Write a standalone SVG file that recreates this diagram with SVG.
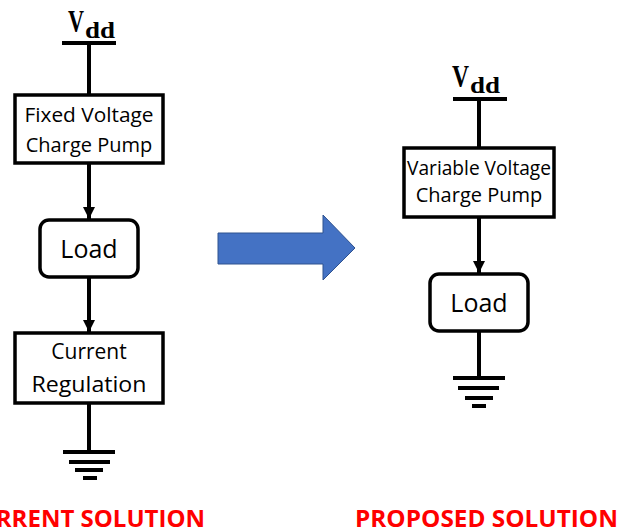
<svg xmlns="http://www.w3.org/2000/svg" width="634" height="531" viewBox="0 0 634 531">
<style>
.box{fill:#fff;stroke:#000;stroke-width:3.5}
.wire{stroke:#000;stroke-width:4;fill:none}
.gnd{stroke:#000;stroke-width:4}
.lbl{font-family:"Open Sans","Noto Sans",sans-serif;fill:#000;text-anchor:middle}
.vdd{font-family:"Liberation Serif",serif;font-weight:bold;fill:#000}
.title{font-family:"Open Sans","Noto Sans",sans-serif;font-weight:bold;fill:#FF0000;font-size:24px}
</style>
<defs>
<marker id="ah" markerUnits="userSpaceOnUse" markerWidth="14" markerHeight="12" refX="12" refY="6" orient="auto">
<path d="M0,0 L12,6 L0,12 Z" fill="#000"/>
</marker>
</defs>
<rect width="634" height="531" fill="#fff"/>
<g id="connectors">
<line class="wire" x1="89" y1="43" x2="89" y2="95"/>
<line class="wire" x1="89" y1="163" x2="89" y2="219" marker-end="url(#ah)"/>
<line class="wire" x1="89" y1="277" x2="89" y2="332" marker-end="url(#ah)"/>
<line class="wire" x1="89" y1="403" x2="89" y2="452"/>
<line class="wire" x1="479" y1="99" x2="479" y2="148"/>
<line class="wire" x1="479" y1="217" x2="479" y2="273" marker-end="url(#ah)"/>
<line class="wire" x1="479" y1="331" x2="479" y2="378"/>
</g>
<g id="vdd-left">
<line class="wire" x1="62" y1="43" x2="116" y2="43"/>
<text class="vdd" x="68" y="32" font-size="31" textLength="16" lengthAdjust="spacingAndGlyphs">V</text>
<text class="vdd" x="85" y="38" font-size="24" textLength="30" lengthAdjust="spacingAndGlyphs">dd</text>
</g>
<g id="fixed-pump">
<rect class="box" x="15" y="95" width="148" height="68"/>
<text class="lbl" x="89" y="122" font-size="20" textLength="129" lengthAdjust="spacingAndGlyphs">Fixed Voltage</text>
<text class="lbl" x="89" y="152" font-size="20">Charge Pump</text>
</g>
<g id="load-left">
<rect class="box" x="40" y="220" width="98" height="57" rx="9"/>
<text class="lbl" x="89" y="258" font-size="25">Load</text>
</g>
<g id="current-regulation">
<rect class="box" x="15" y="333" width="148" height="70"/>
<text class="lbl" x="89" y="359" font-size="21">Current</text>
<text class="lbl" x="89" y="392" font-size="21" textLength="115" lengthAdjust="spacingAndGlyphs">Regulation</text>
</g>
<g id="ground-left">
<line class="gnd" x1="63" y1="452" x2="115" y2="452"/>
<line class="gnd" x1="69" y1="462" x2="110" y2="462"/>
<line class="gnd" x1="75" y1="470" x2="103" y2="470"/>
<line class="gnd" x1="83" y1="478" x2="97" y2="478"/>
</g>
<g id="title-left">
<text class="title" x="205" y="527" text-anchor="end">CURRENT SOLUTION</text>
</g>
<g id="big-arrow">
<path d="M218,233 H323 V215 L355,248 L323,280 V264 H218 Z" fill="#4472C4" stroke="#2F528F" stroke-width="1"/>
</g>
<g id="vdd-right">
<line class="wire" x1="453" y1="99" x2="507" y2="99"/>
<text class="vdd" x="452" y="87" font-size="31" textLength="17" lengthAdjust="spacingAndGlyphs">V</text>
<text class="vdd" x="470" y="93" font-size="24" textLength="30" lengthAdjust="spacingAndGlyphs">dd</text>
</g>
<g id="variable-pump">
<rect class="box" x="404" y="148" width="150" height="69"/>
<text class="lbl" x="479" y="175" font-size="20" textLength="144" lengthAdjust="spacingAndGlyphs">Variable Voltage</text>
<text class="lbl" x="479" y="202" font-size="20">Charge Pump</text>
</g>
<g id="load-right">
<rect class="box" x="430" y="274" width="98" height="57" rx="9"/>
<text class="lbl" x="479" y="312" font-size="25">Load</text>
</g>
<g id="ground-right">
<line class="gnd" x1="453" y1="378" x2="505" y2="378"/>
<line class="gnd" x1="458" y1="388" x2="499" y2="388"/>
<line class="gnd" x1="465" y1="398" x2="493" y2="398"/>
<line class="gnd" x1="472" y1="406" x2="486" y2="406"/>
</g>
<g id="title-right">
<text class="title" x="355" y="527" textLength="263" lengthAdjust="spacingAndGlyphs">PROPOSED SOLUTION</text>
</g>
</svg>
